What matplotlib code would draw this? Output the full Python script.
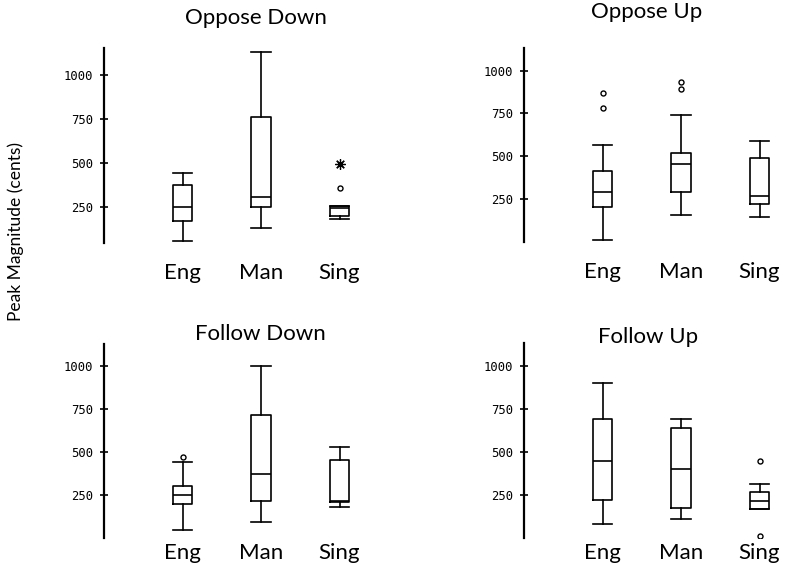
import matplotlib
matplotlib.use("Agg")
import matplotlib.pyplot as plt

W, H, DPI = 796, 564, 100

categories = ["Eng", "Man", "Sing"]
panel_titles = ["Oppose Down", "Oppose Up", "Follow Down", "Follow Up"]
y_label = "Peak Magnitude (cents)"
y_ticks = [250, 500, 750, 1000]

# Oppose Down
od_whislo = [55, 131, 180]
od_q1 = [170, 248, 199]
od_med = [248, 305, 243]
od_q3 = [375, 760, 257]
od_whishi = [441, 1129, 257]
od_outliers = [[], [], [360]]
od_extremes = [[], [], [494]]

# Oppose Up
ou_whislo = [13, 157, 149]
ou_q1 = [203, 295, 223]
ou_med = [295, 456, 269]
ou_q3 = [417, 518, 491]
ou_whishi = [564, 743, 592]
ou_outliers = [[784, 867], [891, 933], []]
ou_extremes = [[], [], []]

# Follow Down
fd_whislo = [47, 93, 182]
fd_q1 = [196, 217, 211]
fd_med = [250, 372, 218]
fd_q3 = [302, 716, 453]
fd_whishi = [440, 998, 526]
fd_outliers = [[468], [], []]
fd_extremes = [[], [], []]

# Follow Up
fu_whislo = [79, 110, 166]
fu_q1 = [223, 176, 166]
fu_med = [447, 399, 213]
fu_q3 = [689, 637, 267]
fu_whishi = [898, 691, 316]
fu_outliers = [[], [], [12, 448]]
fu_extremes = [[], [], []]

panels = [
    (od_whislo, od_q1, od_med, od_q3, od_whishi, od_outliers, od_extremes),
    (ou_whislo, ou_q1, ou_med, ou_q3, ou_whishi, ou_outliers, ou_extremes),
    (fd_whislo, fd_q1, fd_med, fd_q3, fd_whishi, fd_outliers, fd_extremes),
    (fu_whislo, fu_q1, fu_med, fu_q3, fu_whishi, fu_outliers, fu_extremes),
]

# layout (pixels): spine x, pixel y of value 0, pixels per 250, ylim, label pad(pt)
layout = [
    (104, 251.0, 44.0, (45, 1152), 14.0),
    (524, 242.2, 42.9, (0, 1130), 14.5),
    (104, 538.1, 43.1, (0, 1126), 3.5),
    (524, 538.0, 43.1, (0, 1130), 3.5),
]
title_pos = [(256, 23.5), (647, 18.5), (260, 340), (648, 343)]
X_UNIT = 78.5
XMAX = 3.5

TEXT_FONT = "Lato"
TICK_FONT = "DejaVu Sans Mono"

fig = plt.figure(figsize=(W / DPI, H / DPI), dpi=DPI)
fig.patch.set_facecolor("white")

for (wl, q1, md, q3, wh, outl, extr), (sx, y0, per250, ylim, lpad), title, (tx, ty) in zip(
        panels, layout, panel_titles, title_pos):
    k = per250 / 250.0
    lo, hi = ylim
    bottom_px = y0 - lo * k
    top_px = y0 - hi * k
    rect = [sx / W, (H - bottom_px) / H, XMAX * X_UNIT / W, (bottom_px - top_px) / H]
    ax = fig.add_axes(rect)
    ax.set_facecolor("none")
    stats = []
    for i, cat in enumerate(categories):
        stats.append(dict(label=cat, whislo=wl[i], q1=q1[i], med=md[i],
                          q3=q3[i], whishi=wh[i], fliers=outl[i]))
    positions = [1, 2, 3]
    lw = 1.2
    ax.bxp(stats, positions=positions, widths=0.25, capwidths=[0.25] * 3,
           showfliers=True,
           boxprops=dict(color="black", linewidth=lw),
           whiskerprops=dict(color="black", linewidth=lw),
           capprops=dict(color="black", linewidth=lw),
           medianprops=dict(color="black", linewidth=lw),
           flierprops=dict(marker="o", markersize=3.6, markerfacecolor="none",
                           markeredgecolor="black", markeredgewidth=1.0))
    for i, ev in enumerate(extr):
        if ev:
            ax.plot([positions[i]] * len(ev), ev, linestyle="none",
                    marker=(8, 2, 0), markersize=7.5, color="black",
                    markeredgewidth=0.9)
    ax.set_xlim(0, XMAX)
    ax.set_ylim(lo, hi)
    for s in ["top", "right", "bottom"]:
        ax.spines[s].set_visible(False)
    ax.spines["left"].set_linewidth(1.6)
    ax.set_yticks(y_ticks)
    ax.set_yticklabels([str(v) for v in y_ticks], fontfamily=TICK_FONT, fontsize=8.8)
    ax.tick_params(axis="y", direction="inout", length=6, width=1.2, pad=4.6)
    ax.set_xticks(positions)
    ax.set_xticklabels(categories, fontfamily=TEXT_FONT, fontsize=16)
    ax.tick_params(axis="x", length=0, pad=lpad)
    fig.text(tx / W, 1 - ty / H, title, ha="center", va="baseline",
             fontfamily=TEXT_FONT, fontsize=16)

fig.text(16 / W, 1 - 232 / H, y_label, rotation=90, ha="center", va="center",
         fontfamily=TEXT_FONT, fontsize=12.5)

fig.savefig("out.png", dpi=DPI, facecolor="white")
